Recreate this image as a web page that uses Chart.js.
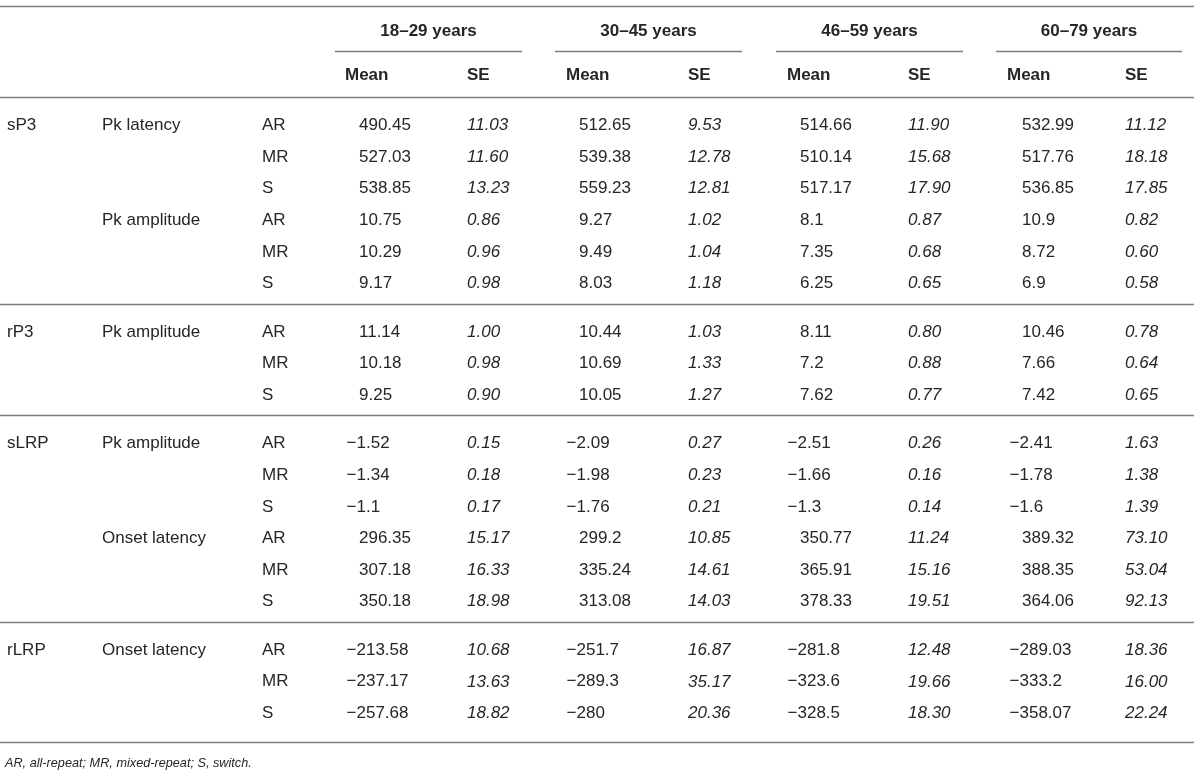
<!DOCTYPE html>
<html>
<head>
<meta charset="utf-8">
<script src="https://cdn.jsdelivr.net/npm/chart.js@4.4.1/dist/chart.umd.min.js"></script>
<style>
html,body{margin:0;padding:0;background:#ffffff;}
#wrap{width:1200px;height:777px;position:relative;}
</style>
</head>
<body>
<div id="wrap"><canvas id="c" width="1200" height="777"></canvas></div>
<script>
// ---------------- DATA ----------------
const ageGroups = ['18–29 years', '30–45 years', '46–59 years', '60–79 years'];
const statHeaders = ['Mean', 'SE'];
const components = ['sP3', 'rP3', 'sLRP', 'rLRP'];
const measures = [['Pk latency', 'Pk amplitude'], ['Pk amplitude'], ['Pk amplitude', 'Onset latency'], ['Onset latency']];
const conditions = ['AR', 'MR', 'S'];

const mean18_29 = [490.45, 527.03, 538.85, 10.75, 10.29, 9.17, 11.14, 10.18, 9.25, -1.52, -1.34, -1.1, 296.35, 307.18, 350.18, -213.58, -237.17, -257.68];
const se18_29   = [11.03, 11.60, 13.23, 0.86, 0.96, 0.98, 1.00, 0.98, 0.90, 0.15, 0.18, 0.17, 15.17, 16.33, 18.98, 10.68, 13.63, 18.82];
const mean30_45 = [512.65, 539.38, 559.23, 9.27, 9.49, 8.03, 10.44, 10.69, 10.05, -2.09, -1.98, -1.76, 299.2, 335.24, 313.08, -251.7, -289.3, -280];
const se30_45   = [9.53, 12.78, 12.81, 1.02, 1.04, 1.18, 1.03, 1.33, 1.27, 0.27, 0.23, 0.21, 10.85, 14.61, 14.03, 16.87, 35.17, 20.36];
const mean46_59 = [514.66, 510.14, 517.17, 8.1, 7.35, 6.25, 8.11, 7.2, 7.62, -2.51, -1.66, -1.3, 350.77, 365.91, 378.33, -281.8, -323.6, -328.5];
const se46_59   = [11.90, 15.68, 17.90, 0.87, 0.68, 0.65, 0.80, 0.88, 0.77, 0.26, 0.16, 0.14, 11.24, 15.16, 19.51, 12.48, 19.66, 18.30];
const mean60_79 = [532.99, 517.76, 536.85, 10.9, 8.72, 6.9, 10.46, 7.66, 7.42, -2.41, -1.78, -1.6, 389.32, 388.35, 364.06, -289.03, -333.2, -358.07];
const se60_79   = [11.12, 18.18, 17.85, 0.82, 0.60, 0.58, 0.78, 0.64, 0.65, 1.63, 1.38, 1.39, 73.10, 53.04, 92.13, 18.36, 16.00, 22.24];

const footnote = 'AR, all-repeat; MR, mixed-repeat; S, switch.';

const meanSeries = [mean18_29, mean30_45, mean46_59, mean60_79];
const seSeries = [se18_29, se30_45, se46_59, se60_79];

// ---------------- LAYOUT ----------------
const W = 1200, H = 777;
const TOP_RULE = 6, HEAD_RULE = 97;
const FIRST_GAP = 28.5, PITCH = 31.6, LAST_GAP = 20, END_GAP = 28.6;
const GROUP_Y = 31, UNDER_Y = 50.5, SUBHEAD_Y = 75, FOOT_Y = 763;
const X_COMP = 7, X_MEAS = 102, X_COND = 262;
const X_MEAN = [359, 579, 800, 1022];
const X_SE = [467, 688, 908, 1125];
const X_MEANHEAD = [345, 566, 787, 1007];
const UNDER = [[335, 522], [555, 742], [776, 963], [996, 1182]];
const RULE_X = [0, 1194];

const TEXT_COLOR = '#262626';
const RULE_COLOR = '#7d7d7d';
const FONT_FAMILY = '"Liberation Sans", Arial, Helvetica, sans-serif';
const F_REG = '17px ' + FONT_FAMILY;
const F_ITAL = 'italic 17px ' + FONT_FAMILY;
const F_BOLD = 'bold 17px ' + FONT_FAMILY;
const F_FOOT = 'italic 12.7px ' + FONT_FAMILY;

// ---------------- BUILD ROWS ----------------
const rows = [];
const rowY = [];
const rules = [TOP_RULE, HEAD_RULE];
let cursor = HEAD_RULE;
components.forEach((comp, ci) => {
  let y = cursor + FIRST_GAP;
  let firstComp = true;
  measures[ci].forEach(meas => {
    conditions.forEach((cond, k) => {
      rows.push({ comp: firstComp ? comp : '', meas: k === 0 ? meas : '', cond: cond });
      rowY.push(y);
      firstComp = false;
      y += PITCH;
    });
  });
  const last = y - PITCH;
  cursor = last + (ci === components.length - 1 ? END_GAP : LAST_GAP);
  rules.push(cursor);
});

function fmtMean(v) { return (v < 0 ? '\u2212' : '') + String(Math.abs(v)); }
function fmtSE(v) { return v.toFixed(2); }

function textSet(points, texts, font, align, hang) {
  return {
    type: 'scatter',
    data: points,
    texts: texts,
    textFont: font,
    textAlign: align || 'left',
    hangNeg: !!hang,
    pointRadius: 0,
    pointHoverRadius: 0,
    showLine: false
  };
}

const datasets = [];
// row label columns
datasets.push(textSet(rows.map((r, i) => ({ x: X_COMP, y: rowY[i] })), rows.map(r => r.comp), F_REG));
datasets.push(textSet(rows.map((r, i) => ({ x: X_MEAS, y: rowY[i] })), rows.map(r => r.meas), F_REG));
datasets.push(textSet(rows.map((r, i) => ({ x: X_COND, y: rowY[i] })), rows.map(r => r.cond), F_REG));
// values
ageGroups.forEach((g, gi) => {
  datasets.push(textSet(meanSeries[gi].map((v, i) => ({ x: X_MEAN[gi], y: rowY[i] })), meanSeries[gi].map(fmtMean), F_REG, 'left', true));
  datasets.push(textSet(seSeries[gi].map((v, i) => ({ x: X_SE[gi], y: rowY[i] })), seSeries[gi].map(fmtSE), F_ITAL, 'left'));
});
// headers
datasets.push(textSet(ageGroups.map((g, gi) => ({ x: (UNDER[gi][0] + UNDER[gi][1]) / 2, y: GROUP_Y })), ageGroups, F_BOLD, 'center'));
datasets.push(textSet(ageGroups.map((g, gi) => ({ x: X_MEANHEAD[gi], y: SUBHEAD_Y })), ageGroups.map(() => statHeaders[0]), F_BOLD, 'left'));
datasets.push(textSet(ageGroups.map((g, gi) => ({ x: X_SE[gi], y: SUBHEAD_Y })), ageGroups.map(() => statHeaders[1]), F_BOLD, 'left'));
// footnote
datasets.push(textSet([{ x: X_COMP - 2, y: FOOT_Y }], [footnote], F_FOOT, 'left'));

const tablePlugin = {
  id: 'tableText',
  afterDatasetsDraw(chart) {
    const ctx = chart.ctx;
    const xs = chart.scales.x, ys = chart.scales.y;
    ctx.save();
    // rules
    ctx.strokeStyle = RULE_COLOR;
    ctx.lineWidth = 1.3;
    rules.forEach(r => {
      const py = Math.round(ys.getPixelForValue(r)) + 0.5;
      ctx.beginPath();
      ctx.moveTo(xs.getPixelForValue(RULE_X[0]), py);
      ctx.lineTo(xs.getPixelForValue(RULE_X[1]), py);
      ctx.stroke();
    });
    UNDER.forEach(u => {
      const py = Math.round(ys.getPixelForValue(UNDER_Y)) + 0.5;
      ctx.beginPath();
      ctx.moveTo(xs.getPixelForValue(u[0]), py);
      ctx.lineTo(xs.getPixelForValue(u[1]), py);
      ctx.stroke();
    });
    // texts
    ctx.fillStyle = TEXT_COLOR;
    ctx.textBaseline = 'middle';
    chart.data.datasets.forEach((ds, di) => {
      if (!ds.texts) return;
      const meta = chart.getDatasetMeta(di);
      ctx.font = ds.textFont;
      ctx.textAlign = ds.textAlign;
      meta.data.forEach((el, j) => {
        const t = ds.texts[j];
        if (!t) return;
        let x = el.x;
        if (ds.hangNeg && t.charAt(0) === '\u2212') {
          x -= ctx.measureText('\u2212').width + 2.5;
        }
        ctx.fillText(t, x, el.y);
      });
    });
    ctx.restore();
  }
};

new Chart(document.getElementById('c'), {
  type: 'scatter',
  data: { datasets: datasets },
  options: {
    responsive: false,
    maintainAspectRatio: false,
    animation: false,
    events: [],
    layout: { padding: 0 },
    scales: {
      x: { type: 'linear', min: 0, max: W, display: false },
      y: { type: 'linear', min: 0, max: H, reverse: true, display: false }
    },
    plugins: { legend: { display: false }, tooltip: { enabled: false } }
  },
  plugins: [tablePlugin]
});
</script>
</body>
</html>
